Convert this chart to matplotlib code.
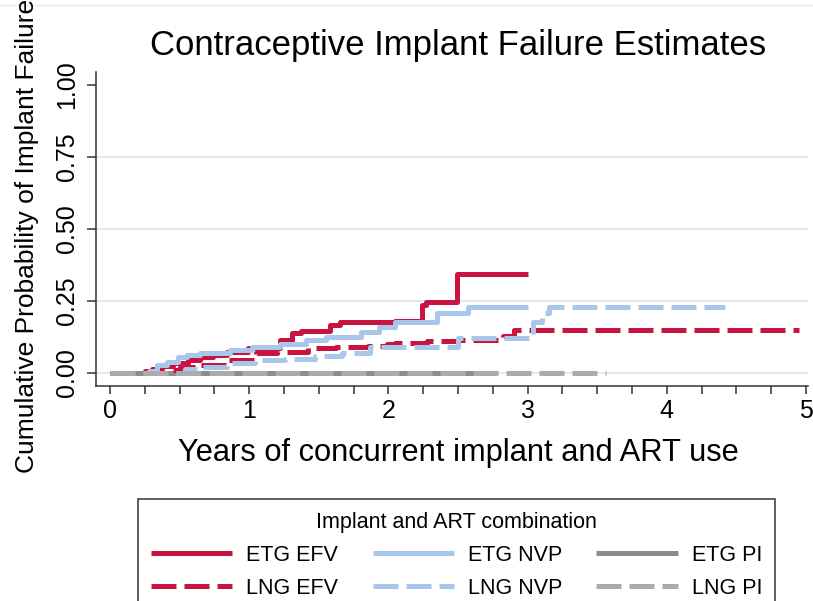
"""
plot.py
Contraceptive implant failure estimates (Kaplan-Meier style step curves)
"""

import matplotlib
matplotlib.use('Agg')
import matplotlib.pyplot as plt
from matplotlib.lines import Line2D


# step curve data (years, cumulative probability)
etg_efv_t = [0, 0.25, 0.30, 0.37, 0.45, 0.56, 0.65, 0.74, 0.84, 0.99, 1.22,
             1.31, 1.37, 1.58, 1.65, 2.05, 2.24, 2.27, 2.49, 3.00]
etg_efv_p = [0, 0.006, 0.014, 0.025, 0.035, 0.045, 0.056, 0.064, 0.074, 0.088,
             0.115, 0.138, 0.145, 0.167, 0.177, 0.182, 0.236, 0.248, 0.344, 0.344]

etg_nvp_t = [0, 0.28, 0.34, 0.41, 0.49, 0.55, 0.65, 0.86, 1.02, 1.22, 1.41,
             1.55, 1.80, 1.93, 2.05, 2.35, 2.57, 3.00]
etg_nvp_p = [0, 0.008, 0.028, 0.038, 0.056, 0.062, 0.07, 0.08, 0.09, 0.10,
             0.115, 0.125, 0.142, 0.16, 0.177, 0.208, 0.23, 0.23]

etg_pi_t = [0, 2.68]
etg_pi_p = [0, 0]

lng_efv_t = [0, 0.40, 0.50, 0.65, 0.84, 1.05, 1.20, 1.42, 1.62, 1.85, 1.99,
             2.05, 2.28, 2.50, 2.82, 2.90, 4.95]
lng_efv_p = [0, 0.01, 0.02, 0.028, 0.045, 0.07, 0.073, 0.087, 0.09, 0.093,
             0.10, 0.104, 0.11, 0.115, 0.13, 0.15, 0.15]

lng_nvp_t = [0, 0.54, 0.66, 0.84, 1.04, 1.26, 1.47, 1.67, 1.87, 2.50, 3.04,
             3.10, 3.15, 4.42]
lng_nvp_p = [0, 0.015, 0.022, 0.035, 0.045, 0.05, 0.06, 0.07, 0.09, 0.12,
             0.177, 0.207, 0.23, 0.23]

lng_pi_t = [0, 3.56]
lng_pi_p = [0, 0]

labels = ['ETG EFV', 'ETG NVP', 'ETG PI', 'LNG EFV', 'LNG NVP', 'LNG PI']
y_ticks = [0, 0.25, 0.5, 0.75, 1.0]
y_ticklabels = ['0.00', '0.25', '0.50', '0.75', '1.00']
x_ticks = [0, 1, 2, 3, 4, 5]

RED = '#c8143e'
BLUE = '#a8c7ea'
DGRAY = '#8c8c8c'
LGRAY = '#ababab'
LW = 3.6
DASH = (5, 1.6)


def main():
    plt.rcParams['font.family'] = ['Liberation Sans', 'DejaVu Sans']

    W, H = 813, 601
    fig = plt.figure(figsize=(W / 100, H / 100), dpi=100)
    ax = fig.add_axes([96 / W, 1 - 386 / H, (808 - 96) / W, (386 - 72) / H])

    # light grid lines (none at 1.00)
    for g in y_ticks[:-1]:
        ax.axhline(g, color='#e1eaee', lw=1.4, zorder=0)

    series = [
        (etg_efv_t, etg_efv_p, RED, '-'),
        (etg_nvp_t, etg_nvp_p, BLUE, '-'),
        (etg_pi_t, etg_pi_p, DGRAY, '-'),
        (lng_efv_t, lng_efv_p, RED, '--'),
        (lng_nvp_t, lng_nvp_p, BLUE, '--'),
        (lng_pi_t, lng_pi_p, LGRAY, '--'),
    ]
    handles = []
    for (t, p, c, ls), lab in zip(series, labels):
        line, = ax.plot(t, p, drawstyle='steps-post', color=c, lw=LW,
                        linestyle=ls, solid_capstyle='butt',
                        dash_capstyle='butt', label=lab)
        if ls == '--':
            line.set_dashes(DASH)
        handles.append(line)

    ax.set_xlim(-0.1006, 5.014)
    ax.set_ylim(-0.045, 1.045)

    ax.set_xticks(x_ticks)
    ax.set_xticks([i / 4 for i in range(21)], minor=True)
    ax.set_yticks(y_ticks)
    ax.set_yticklabels(y_ticklabels)

    ax.tick_params(axis='x', which='both', length=6, width=1.1,
                   color='#333333', labelsize=18, pad=3)
    ax.tick_params(axis='y', length=6.5, width=1.1, color='#333333',
                   labelsize=18, pad=6, labelrotation=90)
    for lab in ax.get_yticklabels():
        lab.set_va('center')

    for s in ['top', 'right']:
        ax.spines[s].set_visible(False)
    for s in ['left', 'bottom']:
        ax.spines[s].set_color('#333333')
        ax.spines[s].set_linewidth(1.1)

    # titles
    fig.text(458 / W, 1 - 46 / H, 'Contraceptive Implant Failure Estimates',
             ha='center', va='center', fontsize=25)
    fig.text(458 / W, 1 - 453 / H, 'Years of concurrent implant and ART use',
             ha='center', va='center', fontsize=22.2)
    fig.text(27 / W, 1 - 236 / H, 'Cumulative Probability of Implant Failure',
             ha='center', va='center', rotation=90, fontsize=19)

    # faint outer border line at top
    fig.add_artist(Line2D([0, 1], [1 - 5 / H, 1 - 5 / H],
                          transform=fig.transFigure, color='#e4eaec', lw=1))

    # legend, row-major order with ncol=3
    order = [0, 3, 1, 4, 2, 5]
    leg = fig.legend([handles[i] for i in order], [labels[i] for i in order],
                     ncol=3, loc='upper left',
                     bbox_to_anchor=(138 / W, 1 - 499 / H),
                     borderaxespad=0, fontsize=15.5,
                     title='Implant and ART combination', title_fontsize=15.5,
                     handlelength=3.77, handletextpad=0.65,
                     columnspacing=1.6, borderpad=0.6, labelspacing=0.55,
                     fancybox=False, framealpha=1, edgecolor='#333333')
    leg.get_frame().set_linewidth(1.1)

    fig.savefig('out.png', dpi=100)


if __name__ == '__main__':
    main()
